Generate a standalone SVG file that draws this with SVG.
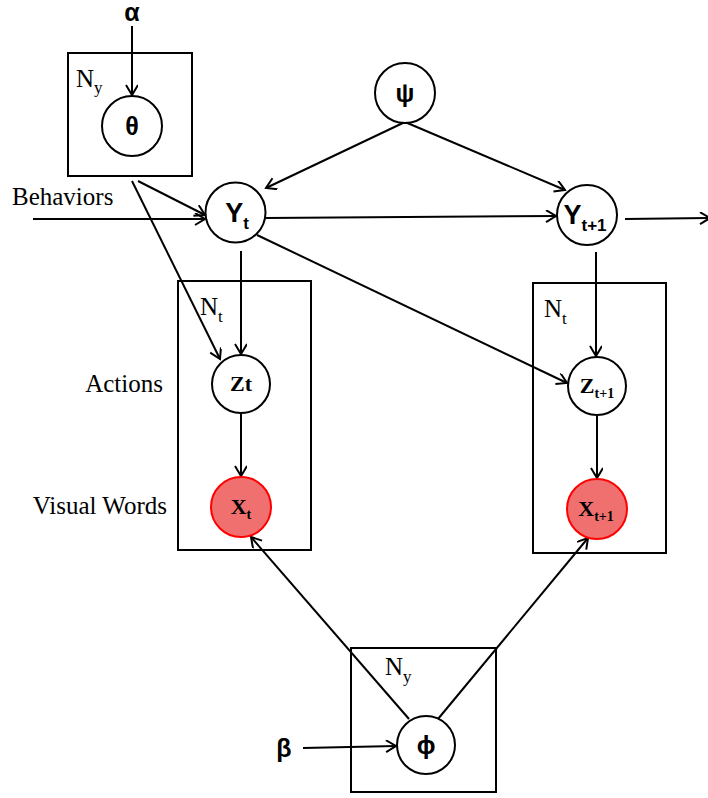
<svg xmlns="http://www.w3.org/2000/svg" width="708" height="798" viewBox="0 0 708 798">
<style>
.plate{fill:none;stroke:#000;stroke-width:2}
.node{fill:#fff;stroke:#000;stroke-width:2}
.obs{fill:#F07070;stroke:#FF0000;stroke-width:2}
.edge{fill:none;stroke:#000;stroke-width:2;marker-end:url(#arr)}
.greek{font-family:"Liberation Sans","DejaVu Sans",sans-serif;font-weight:bold;font-size:25px;text-anchor:middle}
.ysans{font-family:"Liberation Sans","DejaVu Sans",sans-serif;font-weight:bold}
.bser{font-family:"Liberation Serif","DejaVu Serif",serif;font-weight:bold}
.lab{font-family:"Liberation Serif","DejaVu Serif",serif;font-size:25px}
</style>
<defs>
<marker id="arr" markerUnits="userSpaceOnUse" markerWidth="14" markerHeight="14" refX="11" refY="6" orient="auto">
<path d="M1,0 L11,6 L1,12" fill="none" stroke="#000" stroke-width="2"/>
</marker>
</defs>
<rect width="708" height="798" fill="#fff"/>

<g id="plates">
<rect class="plate" x="68" y="53" width="124" height="123"/>
<rect class="plate" x="178" y="281" width="133" height="269"/>
<rect class="plate" x="533" y="283" width="133" height="270"/>
<rect class="plate" x="351" y="648" width="145" height="144"/>
<text class="lab" x="76" y="87">N<tspan font-size="17" dy="6">y</tspan></text>
<text class="lab" x="200" y="315">N<tspan font-size="17" dy="7">t</tspan></text>
<text class="lab" x="544" y="317">N<tspan font-size="17" dy="7">t</tspan></text>
<text class="lab" x="385" y="675">N<tspan font-size="17" dy="7">y</tspan></text>
</g>

<g id="labels">
<text class="lab" x="12" y="205">Behaviors</text>
<text class="lab" x="163" y="392" text-anchor="end">Actions</text>
<text class="lab" x="167" y="514" text-anchor="end">Visual Words</text>
</g>

<g id="connectors">
<line class="edge" x1="132" y1="26" x2="132" y2="95"/>
<line class="edge" x1="33" y1="219" x2="205" y2="219"/>
<line class="edge" x1="138" y1="181" x2="205" y2="215"/>
<line class="edge" x1="132" y1="181" x2="220" y2="359"/>
<line class="edge" x1="405" y1="122" x2="266" y2="188"/>
<line class="edge" x1="405" y1="122" x2="565" y2="190"/>
<line class="edge" x1="266" y1="218" x2="556" y2="216"/>
<line class="edge" x1="625" y1="219" x2="710" y2="218"/>
<line class="edge" x1="241" y1="251" x2="241" y2="354"/>
<line class="edge" x1="257" y1="235" x2="567" y2="383"/>
<line class="edge" x1="596" y1="252" x2="596" y2="356"/>
<line class="edge" x1="241" y1="414" x2="241" y2="476"/>
<line class="edge" x1="597" y1="416" x2="597" y2="478"/>
<line class="edge" x1="409" y1="719" x2="251" y2="537"/>
<line class="edge" x1="438" y1="719" x2="588" y2="538"/>
<line class="edge" x1="303" y1="748" x2="396" y2="746"/>
</g>

<g id="alpha"><text class="greek" x="132" y="21">α</text></g>
<g id="beta"><text class="greek" x="284" y="757">β</text></g>

<g id="theta">
<circle class="node" cx="132" cy="126" r="30"/>
<text class="greek" x="132" y="135" font-size="23">θ</text>
</g>
<g id="psi">
<circle class="node" cx="405" cy="93" r="30"/>
<text class="greek" x="405" y="102">ψ</text>
</g>
<g id="Yt">
<circle class="node" cx="235.5" cy="212.5" r="30"/>
<text class="ysans" x="237" y="222" font-size="27" text-anchor="middle">Y<tspan font-size="17" dy="7">t</tspan></text>
</g>
<g id="Yt1">
<circle class="node" cx="587" cy="215" r="30"/>
<text class="ysans" x="585" y="224" font-size="27" text-anchor="middle">Y<tspan font-size="17" dy="7">t+1</tspan></text>
</g>
<g id="Zt">
<circle class="node" cx="241" cy="384" r="29"/>
<text class="bser" x="241" y="391" font-size="22" text-anchor="middle">Zt</text>
</g>
<g id="Zt1">
<circle class="node" cx="597" cy="386" r="29"/>
<text class="bser" x="597" y="393" font-size="22" text-anchor="middle">Z<tspan font-size="14" dy="5">t+1</tspan></text>
</g>
<g id="Xt">
<circle class="obs" cx="241" cy="507" r="30"/>
<text class="bser" x="241" y="514" font-size="22" text-anchor="middle">X<tspan font-size="14" dy="5">t</tspan></text>
</g>
<g id="Xt1">
<circle class="obs" cx="597" cy="509" r="30"/>
<text class="bser" x="596" y="516" font-size="22" text-anchor="middle">X<tspan font-size="14" dy="5">t+1</tspan></text>
</g>
<g id="phi">
<circle class="node" cx="426" cy="745" r="29"/>
<text class="greek" x="426" y="754">ϕ</text>
</g>
</svg>
